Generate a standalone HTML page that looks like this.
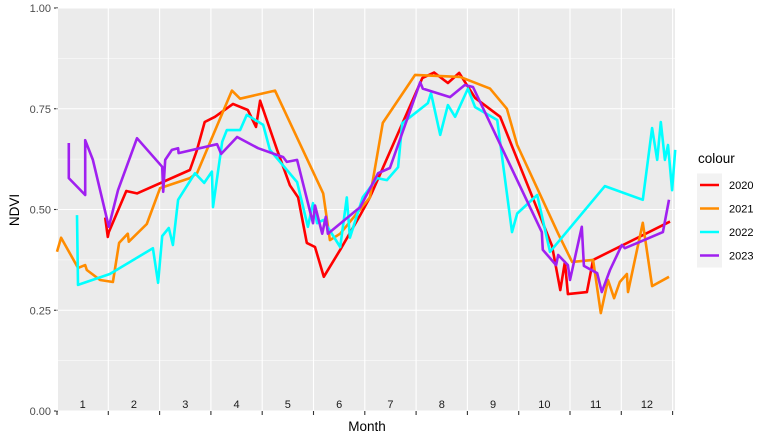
<!DOCTYPE html>
<html><head><meta charset="utf-8"><style>body{margin:0;background:#fff}svg{display:block;font-family:"Liberation Sans",Arial,sans-serif}</style></head>
<body>
<svg id="chart" width="773" height="442" viewBox="0 0 773 442"></svg>
<script>
const months = ["1","2","3","4","5","6","7","8","9","10","11","12"];
const yTicks = [0, 0.25, 0.5, 0.75, 1.0];
const yTickLabels = ["0.00","0.25","0.50","0.75","1.00"];
const seriesNames = ["2020","2021","2022","2023"];
const seriesColors = ["#FF0000","#FF8C00","#00FFFF","#A020F0"];
const x2020 = [0.94,0.99,1.01,1.35,1.56,2.59,2.73,2.88,3.08,3.43,3.72,3.88,3.96,4.29,4.54,4.70,4.87,5.03,5.20,5.52,5.91,6.10,7.12,7.35,7.62,7.84,8.15,8.64,9.65,9.81,9.90,9.96,10.33,10.45,11.95];
const y2020 = [0.48,0.432,0.444,0.546,0.54,0.598,0.648,0.717,0.73,0.762,0.747,0.705,0.77,0.648,0.56,0.53,0.417,0.407,0.333,0.40,0.486,0.53,0.826,0.84,0.814,0.839,0.777,0.73,0.41,0.30,0.37,0.29,0.295,0.375,0.47];
const x2021 = [0,0.08,0.41,0.55,0.58,0.84,1.09,1.21,1.38,1.40,1.75,2.01,2.59,2.73,3.41,3.57,4.25,5.19,5.32,5.52,6.10,6.35,6.98,7.86,8.44,8.77,8.97,9.77,10.04,10.45,10.60,10.74,10.86,10.97,11.11,11.13,11.42,11.60,11.93];
const y2021 = [0.395,0.43,0.355,0.362,0.35,0.325,0.32,0.417,0.44,0.42,0.464,0.553,0.578,0.59,0.795,0.775,0.795,0.54,0.424,0.44,0.53,0.715,0.834,0.829,0.80,0.75,0.66,0.44,0.37,0.375,0.243,0.325,0.28,0.32,0.34,0.295,0.467,0.31,0.333];
const x2022 = [0.39,0.41,1.03,1.87,1.97,2.05,2.18,2.26,2.36,2.69,2.87,3.02,3.04,3.22,3.31,3.57,3.70,4.02,4.15,4.68,4.89,4.99,5.07,5.19,5.52,5.65,5.71,5.96,6.24,6.43,6.65,6.73,7.23,7.29,7.47,7.62,7.76,8.01,8.15,8.58,8.87,8.97,9.36,9.61,10.68,11.42,11.60,11.70,11.77,11.85,11.91,11.99,12.05];
const y2022 = [0.486,0.313,0.34,0.404,0.318,0.434,0.454,0.412,0.524,0.59,0.566,0.594,0.506,0.668,0.697,0.697,0.735,0.71,0.648,0.568,0.457,0.516,0.466,0.474,0.407,0.53,0.43,0.53,0.578,0.573,0.605,0.714,0.764,0.789,0.685,0.759,0.73,0.80,0.754,0.722,0.444,0.49,0.536,0.395,0.558,0.524,0.702,0.623,0.717,0.623,0.66,0.548,0.648];
const x2023 = [0.23,0.23,0.55,0.55,0.70,1.01,1.19,1.56,2.05,2.07,2.11,2.24,2.36,2.37,3.12,3.20,3.51,3.92,4.41,4.48,4.68,4.99,5.03,5.17,5.24,5.28,5.91,6.26,6.49,7.08,7.13,7.66,7.95,8.11,9.45,9.47,9.73,9.77,9.96,10.00,10.23,10.27,10.53,10.62,10.78,11.01,11.07,11.81,11.93];
const y2023 = [0.665,0.578,0.536,0.672,0.623,0.457,0.548,0.677,0.606,0.544,0.623,0.648,0.652,0.64,0.662,0.638,0.68,0.652,0.63,0.618,0.623,0.466,0.51,0.44,0.482,0.44,0.506,0.59,0.603,0.816,0.80,0.779,0.809,0.804,0.444,0.40,0.362,0.387,0.362,0.325,0.457,0.36,0.342,0.295,0.35,0.412,0.404,0.444,0.524];
const xs=[x2020,x2021,x2022,x2023], ys=[y2020,y2021,y2022,y2023];

const NS="http://www.w3.org/2000/svg", svg=document.getElementById('chart');
const PL=58,PR=675,PT=8,PB=411;
const xS=m=>57+m*51.3, yS=v=>PB-v*(PB-PT);
function el(t,a,p){const e=document.createElementNS(NS,t);for(const k in a)e.setAttribute(k,a[k]);(p||svg).appendChild(e);return e;}
const panel=el('rect',{x:PL,y:PT,width:PR-PL,height:PB-PT,fill:'#EBEBEB'});


for(let i=0;i<yTicks.length-1;i++){const v=(yTicks[i]+yTicks[i+1])/2;
 const g=el('line',{x1:PL,x2:PR,y1:yS(v),y2:yS(v),stroke:'#fff','stroke-width':0.6});
 
 }
yTicks.forEach((v,i)=>{
 const g=el('line',{x1:PL,x2:PR,y1:yS(v),y2:yS(v),stroke:'#fff','stroke-width':1.1});
 
 
 const t=el('line',{x1:54,x2:PL,y1:yS(v),y2:yS(v),stroke:'#333','stroke-width':1.1});
 
 
 const l=el('text',{x:51,y:yS(v)+4,'text-anchor':'end','font-size':11,fill:'#4D4D4D'});
 l.textContent=yTickLabels[i];
 
 
});
for(let k=0;k<=months.length;k++){
 const g=el('line',{x1:xS(k),x2:xS(k),y1:PT,y2:PB,stroke:'#fff','stroke-width':1.1});
 
 
 const t=el('line',{x1:xS(k),x2:xS(k),y1:PB,y2:PB+4,stroke:'#333','stroke-width':1.1});
 
 
}
months.forEach((m,k)=>{
 const l=el('text',{x:xS(k+0.5),y:408,'text-anchor':'middle','font-size':11,fill:'#1a1a1a'});
 l.textContent=m;
 
 
});
seriesNames.forEach((n,s)=>{
 const d=xs[s].map((x,i)=>(i?'L':'M')+xS(x).toFixed(1)+','+yS(ys[s][i]).toFixed(1)).join('');
 const p=el('path',{d:d,fill:'none',stroke:seriesColors[s],'stroke-width':2.6,'stroke-linejoin':'round'});
 
 
});
const xt=el('text',{x:367,y:431,'text-anchor':'middle','font-size':13.5,fill:'#000'});xt.textContent='Month';


const yt=el('text',{x:0,y:0,'text-anchor':'middle','font-size':13.5,fill:'#000',transform:'translate(19,210) rotate(-90)'});yt.textContent='NDVI';


const lt=el('text',{x:698,y:163,'font-size':13.5,fill:'#000'});lt.textContent='colour';


seriesNames.forEach((n,s)=>{
 const cy=185+s*23.5;
 const bg=el('rect',{x:697,y:cy-11.5,width:25,height:23.5,fill:'#F2F2F2'});
 
 
 const ln=el('line',{x1:700,x2:719,y1:cy,y2:cy,stroke:seriesColors[s],'stroke-width':2.6});
 
 
 const tx=el('text',{x:729,y:cy+4,'font-size':11,fill:'#000'});tx.textContent=n;
 
 
});
</script>
</body></html>
